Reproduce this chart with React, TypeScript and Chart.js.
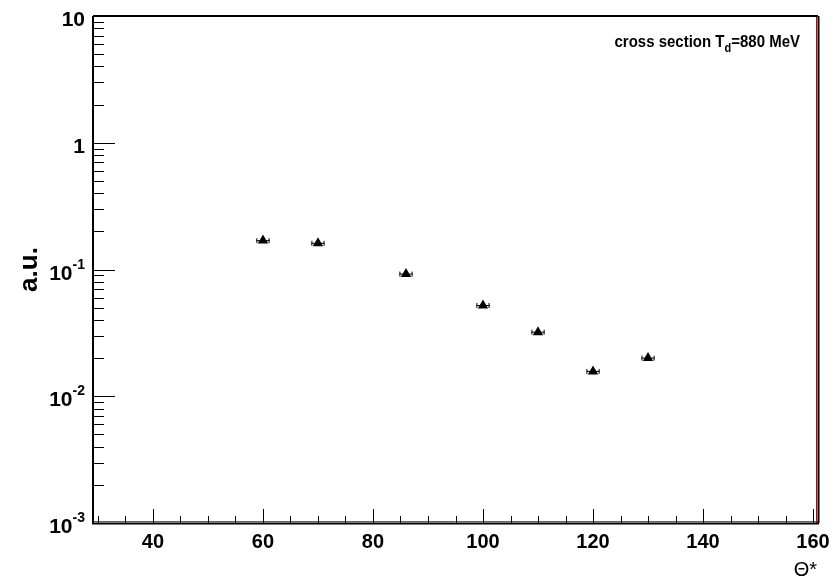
import React, { useEffect, useRef } from "react";
import { Chart, registerables } from "chart.js";

Chart.register(...registerables);

const angles = [60, 70, 86, 100, 110, 120, 130];
const values = [0.169, 0.161, 0.092, 0.052, 0.032, 0.0157, 0.0200];
const angleErrors = [1.2, 1.2, 1.2, 1.2, 1.2, 1.2, 1.2];
const yDecades = [0.001, 0.01, 0.1, 1, 10];
const yDecadeLabels: [string, string][] = [["10", "-3"], ["10", "-2"], ["10", "-1"], ["1", ""], ["10", ""]];
const xMajorTicks = [40, 60, 80, 100, 120, 140, 160];
const xMinorTicks = [30, 35, 45, 50, 55, 65, 70, 75, 85, 90, 95, 105, 110, 115, 125, 130, 135, 145, 150, 155, 160];
const xRange = [29.1, 160.9];
const yRange = [0.001, 10];
const annotation = { pre: "cross section T", sub: "d", post: "=880 MeV" };
const yTitle = "a.u.";
const xTitle = "Θ*";

const FONT = "'Liberation Sans', Arial, Helvetica, sans-serif";

const rootPlugin = {
  id: "rootStyle",
  afterDatasetsDraw(chart: any) {
    const { ctx, chartArea, scales } = chart;
    const xs = scales.x;
    const ys = scales.y;
    const { left, right, top, bottom } = chartArea;
    ctx.save();

    // error bars
    ctx.strokeStyle = "#000";
    ctx.lineWidth = 1;
    angles.forEach((a, i) => {
      const y = ys.getPixelForValue(values[i]);
      const x1 = xs.getPixelForValue(a - angleErrors[i]);
      const x2 = xs.getPixelForValue(a + angleErrors[i]);
      ctx.beginPath();
      ctx.moveTo(x1, y);
      ctx.lineTo(x2, y);
      ctx.moveTo(x1 + 0.5, y - 2.5);
      ctx.lineTo(x1 + 0.5, y + 2.5);
      ctx.moveTo(x2 - 0.5, y - 2.5);
      ctx.lineTo(x2 - 0.5, y + 2.5);
      ctx.stroke();
    });

    // red lines
    ctx.strokeStyle = "#d83030";
    ctx.lineWidth = 1;
    ctx.beginPath();
    ctx.moveTo(left, bottom - 1.5);
    ctx.lineTo(right, bottom - 1.5);
    ctx.stroke();
    ctx.strokeStyle = "#8a1818";
    ctx.beginPath();
    ctx.moveTo(right - 1.5, top);
    ctx.lineTo(right - 1.5, bottom);
    ctx.stroke();

    // frame
    ctx.strokeStyle = "#000";
    ctx.lineWidth = 2;
    ctx.beginPath();
    ctx.moveTo(left, top);
    ctx.lineTo(right, top);
    ctx.moveTo(left, top);
    ctx.lineTo(left, bottom + 1);
    ctx.moveTo(left - 1, bottom + 0.5);
    ctx.lineTo(right + 1, bottom + 0.5);
    ctx.moveTo(right + 0.5, top);
    ctx.lineTo(right + 0.5, bottom);
    ctx.stroke();

    // y ticks
    ctx.lineWidth = 1;
    ctx.beginPath();
    yDecades.forEach((d) => {
      const y = Math.round(ys.getPixelForValue(d)) + 0.5;
      if (d > yRange[0] && d < yRange[1]) {
        ctx.moveTo(left, y);
        ctx.lineTo(left + 22, y);
      }
      if (d < yRange[1]) {
        for (let m = 2; m <= 9; m++) {
          const v = d * m;
          const ym = Math.round(ys.getPixelForValue(v)) + 0.5;
          ctx.moveTo(left, ym);
          ctx.lineTo(left + 11, ym);
        }
      }
    });
    // x ticks
    xMajorTicks.forEach((t) => {
      const x = Math.round(xs.getPixelForValue(t)) + 0.5;
      ctx.moveTo(x, bottom);
      ctx.lineTo(x, bottom - 14);
    });
    xMinorTicks.forEach((t) => {
      const x = Math.round(xs.getPixelForValue(t)) + 0.5;
      ctx.moveTo(x, bottom);
      ctx.lineTo(x, bottom - 7);
    });
    ctx.stroke();

    // y labels
    ctx.fillStyle = "#000";
    const labelRight = left - 8;
    yDecades.forEach((d, i) => {
      const y = ys.getPixelForValue(d);
      const [base, sup] = yDecadeLabels[i];
      ctx.textBaseline = "alphabetic";
      ctx.textAlign = "right";
      if (sup) {
        ctx.font = `bold 14px ${FONT}`;
        const sw = ctx.measureText(sup).width;
        ctx.fillText(sup, labelRight, y - 1);
        ctx.font = `bold 21px ${FONT}`;
        ctx.fillText(base, labelRight - sw, y + 10);
      } else {
        ctx.font = `bold 21px ${FONT}`;
        ctx.fillText(base, labelRight, y + 10);
      }
    });

    // x labels
    ctx.font = `bold 20px ${FONT}`;
    ctx.textAlign = "center";
    xMajorTicks.forEach((t) => {
      const x = xs.getPixelForValue(t);
      ctx.fillText(String(t), x, bottom + 25);
    });

    // axis titles
    ctx.font = `20px ${FONT}`;
    ctx.textAlign = "right";
    ctx.fillText(xTitle, right - 1, bottom + 53);

    ctx.save();
    ctx.translate(37, (top + bottom) / 2);
    ctx.rotate(-Math.PI / 2);
    ctx.font = `bold 26px ${FONT}`;
    ctx.textAlign = "center";
    ctx.fillText(yTitle, 0, 0);
    ctx.restore();

    // annotation
    ctx.save();
    const baseY = 47;
    ctx.translate(0, baseY);
    ctx.scale(1, 1.15);
    ctx.textAlign = "left";
    ctx.font = `bold 15px ${FONT}`;
    const wPre = ctx.measureText(annotation.pre).width;
    const wPost = ctx.measureText(annotation.post).width;
    ctx.font = `bold 11px ${FONT}`;
    const wSub = ctx.measureText(annotation.sub).width;
    const endX = 800;
    let x = endX - wPre - wSub - wPost;
    ctx.font = `bold 15px ${FONT}`;
    ctx.fillText(annotation.pre, x, 0);
    x += wPre;
    ctx.font = `bold 11px ${FONT}`;
    ctx.fillText(annotation.sub, x, 4);
    x += wSub;
    ctx.font = `bold 15px ${FONT}`;
    ctx.fillText(annotation.post, x, 0);
    ctx.restore();

    ctx.restore();
  },
};

export default function App() {
  const ref = useRef<HTMLCanvasElement>(null);
  useEffect(() => {
    document.body.style.margin = "0";
    const canvas = ref.current;
    if (!canvas) return;
    const chart = new Chart(canvas, {
      type: "scatter",
      data: {
        datasets: [
          {
            data: angles.map((a, i) => ({ x: a, y: values[i] })),
            pointStyle: "triangle",
            radius: 6,
            backgroundColor: "#000",
            borderColor: "#000",
            borderWidth: 0,
          },
        ],
      },
      options: {
        responsive: false,
        animation: false,
        devicePixelRatio: 1,
        layout: { padding: { left: 93, top: 16, right: 18, bottom: 59 } },
        plugins: { legend: { display: false }, tooltip: { enabled: false } },
        scales: {
          x: { type: "linear", min: xRange[0], max: xRange[1], display: false },
          y: { type: "logarithmic", min: yRange[0], max: yRange[1], display: false },
        },
      },
      plugins: [rootPlugin],
    });
    return () => chart.destroy();
  }, []);
  return <canvas ref={ref} width={836} height={582} style={{ display: "block" }} />;
}
